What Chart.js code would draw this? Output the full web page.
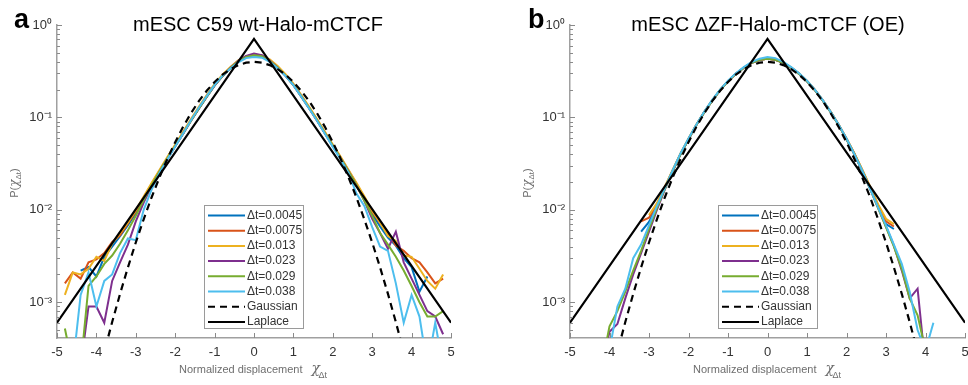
<!DOCTYPE html>
<html>
<head>
<meta charset="utf-8">
<script src="https://cdn.jsdelivr.net/npm/chart.js@4.4.0/dist/chart.umd.min.js"></script>
<style>
  html, body { margin: 0; padding: 0; background: #fff; }
  #wrap { position: relative; width: 968px; height: 385px; overflow: hidden; }
  canvas { position: absolute; top: 0; }
  #chartA { left: 0; }
  #chartB { left: 484px; }
</style>
</head>
<body>
<div id="wrap">
  <canvas id="chartA" width="484" height="385"></canvas>
  <canvas id="chartB" width="484" height="385"></canvas>
</div>
<script>
// Bin centres (normalized displacement), shared by both panels
const X_BINS = [
  -4.8, -4.6, -4.4, -4.2, -4.0, -3.8, -3.6, -3.4, -3.2, -3.0,
  -2.8, -2.6, -2.4, -2.2, -2.0, -1.8, -1.6, -1.4, -1.2, -1.0,
  -0.8, -0.6, -0.4, -0.2, 0.0, 0.2, 0.4, 0.6, 0.8, 1.0,
  1.2, 1.4, 1.6, 1.8, 2.0, 2.2, 2.4, 2.6, 2.8, 3.0,
  3.2, 3.4, 3.6, 3.8, 4.0, 4.2, 4.4, 4.6, 4.8
];

const SERIES_LABELS = ['\u0394t=0.0045', '\u0394t=0.0075', '\u0394t=0.013', '\u0394t=0.023', '\u0394t=0.029', '\u0394t=0.038'];
const SERIES_COLORS = ['#0072BD', '#D95319', '#EDB120', '#7E2F8E', '#77AC30', '#4DBEEE'];

const Y_TICK_VALUES = [1, 0.1, 0.01, 0.001];
const Y_TICK_LABELS = ['10\u2070', '10\u207B\u00B9', '10\u207B\u00B2', '10\u207B\u00B3'];
const X_TICK_VALUES = [-5, -4, -3, -2, -1, 0, 1, 2, 3, 4, 5];

// Panel a: mESC C59 wt-Halo-mCTCF
const WT_0045 = [
  null, null, 0.0022, 0.0024, 0.0019, 0.0031, 0.0040, 0.0052, 0.0068, 0.0092,
  0.0132, 0.0186, 0.0258, 0.0357, 0.0488, 0.0668, 0.0918, 0.1245, 0.167, 0.221,
  0.279, 0.340, 0.405, 0.452, 0.470, 0.458, 0.408, 0.344, 0.283, 0.224,
  0.169, 0.126, 0.093, 0.0675, 0.0492, 0.0362, 0.0262, 0.0188, 0.0131, 0.0090,
  0.0066, 0.0050, 0.0041, 0.0030, 0.0024, 0.0013, 0.0019, null, null
];
const WT_0075 = [
  0.0016, 0.0021, 0.0018, 0.0027, 0.0029, 0.0034, 0.0045, 0.0053, 0.0071, 0.0096,
  0.0135, 0.0190, 0.0263, 0.0363, 0.0495, 0.0675, 0.093, 0.126, 0.169, 0.224,
  0.282, 0.343, 0.410, 0.458, 0.480, 0.468, 0.415, 0.350, 0.288, 0.228,
  0.172, 0.128, 0.094, 0.0685, 0.050, 0.0368, 0.0266, 0.0192, 0.0136, 0.0095,
  0.0072, 0.0056, 0.0041, 0.0036, 0.0030, 0.0027, 0.0021, 0.0016, 0.0018
];
const WT_013 = [
  0.0012, 0.0021, 0.0020, 0.0023, 0.0031, 0.0028, 0.0043, 0.0056, 0.0073, 0.0099,
  0.0139, 0.0195, 0.027, 0.0372, 0.051, 0.070, 0.096, 0.130, 0.174, 0.230,
  0.290, 0.352, 0.415, 0.458, 0.470, 0.463, 0.425, 0.360, 0.294, 0.232,
  0.175, 0.130, 0.096, 0.070, 0.051, 0.0375, 0.027, 0.0196, 0.0140, 0.0098,
  0.0073, 0.0052, 0.0046, 0.0032, 0.0031, 0.0023, 0.0017, 0.0014, 0.0020
];
const WT_023 = [
  null, null, 0.0002, 0.0009, 0.0009, 0.0006, 0.0017, 0.0027, 0.0042, 0.0075,
  0.0120, 0.0180, 0.0255, 0.0355, 0.0488, 0.0668, 0.092, 0.125, 0.168, 0.222,
  0.280, 0.342, 0.410, 0.462, 0.490, 0.472, 0.412, 0.345, 0.282, 0.223,
  0.168, 0.125, 0.092, 0.067, 0.049, 0.036, 0.026, 0.0185, 0.0125, 0.0080,
  0.0056, 0.0038, 0.0058, 0.0027, 0.0018, 0.0012, 0.0008, 0.0007, 0.00045
];
const WT_029 = [
  0.00052, 0.0002, 0.0002, 0.0015, 0.0019, 0.0026, 0.0032, 0.0043, 0.0060, 0.0086,
  0.0128, 0.0185, 0.0258, 0.0358, 0.049, 0.067, 0.092, 0.125, 0.168, 0.223,
  0.280, 0.340, 0.405, 0.452, 0.470, 0.458, 0.408, 0.344, 0.283, 0.224,
  0.169, 0.126, 0.093, 0.0675, 0.0492, 0.036, 0.0258, 0.0185, 0.0126, 0.0086,
  0.0056, 0.0042, 0.0031, 0.0022, 0.0015, 0.0010, 0.0007, 0.0007, 0.0008
];
const WT_038 = [
  null, 0.0002, 0.0012, 0.0021, 0.0009, 0.0017, 0.0020, 0.0034, 0.0049, 0.0047,
  0.0100, 0.0165, 0.0250, 0.0350, 0.0485, 0.067, 0.093, 0.127, 0.170, 0.225,
  0.283, 0.338, 0.395, 0.438, 0.450, 0.443, 0.400, 0.340, 0.281, 0.223,
  0.168, 0.125, 0.092, 0.0665, 0.048, 0.035, 0.025, 0.0150, 0.0110, 0.0065,
  0.0040, 0.0036, 0.0016, 0.0006, 0.0012, 0.0007, 0.0002, 0.0006, 0.0002
];

// Panel b: mESC dZF-Halo-mCTCF (OE)
const ZF_0045 = [
  null, null, null, null, null, null, null, null, 0.0058, 0.0074,
  0.0110, 0.0172, 0.0265, 0.040, 0.058, 0.083, 0.114, 0.152, 0.197, 0.246,
  0.296, 0.345, 0.390, 0.420, 0.430, 0.420, 0.390, 0.345, 0.296, 0.246,
  0.197, 0.152, 0.114, 0.083, 0.058, 0.040, 0.0265, 0.0172, 0.0108, 0.0070,
  0.0062, null, null, null, null, null, null, null, null
];
const ZF_0075 = [
  null, null, null, null, null, null, null, null, 0.0075, 0.0082,
  0.0115, 0.0175, 0.0268, 0.0405, 0.058, 0.083, 0.114, 0.152, 0.197, 0.246,
  0.296, 0.345, 0.390, 0.420, 0.430, 0.420, 0.392, 0.347, 0.298, 0.248,
  0.198, 0.153, 0.115, 0.084, 0.059, 0.0405, 0.0270, 0.0176, 0.0112, 0.0075,
  0.0066, null, null, null, null, null, null, null, null
];
const ZF_013 = [
  null, null, null, null, null, null, null, null, null, 0.0088,
  0.0118, 0.0178, 0.0270, 0.041, 0.059, 0.084, 0.115, 0.153, 0.198, 0.247,
  0.297, 0.346, 0.391, 0.421, 0.430, 0.421, 0.392, 0.347, 0.298, 0.248,
  0.198, 0.153, 0.115, 0.084, 0.059, 0.041, 0.0272, 0.0178, 0.0115, 0.0080,
  0.0070, null, null, null, null, null, null, null, null
];
const ZF_023 = [
  null, null, 0.0002, 0.0002, 0.00048, 0.00058, 0.0011, 0.0020, 0.0034, 0.0058,
  0.0100, 0.0165, 0.0260, 0.040, 0.058, 0.083, 0.114, 0.152, 0.197, 0.246,
  0.296, 0.345, 0.390, 0.420, 0.430, 0.420, 0.390, 0.345, 0.296, 0.246,
  0.197, 0.152, 0.114, 0.083, 0.058, 0.040, 0.0260, 0.0168, 0.0105, 0.0066,
  0.0041, 0.0022, 0.0011, 0.0014, 0.0002, null, null, null, null
];
const ZF_029 = [
  null, null, 0.0002, 0.0002, 0.00055, 0.0008, 0.0013, 0.0022, 0.0036, 0.0062,
  0.0104, 0.0168, 0.0262, 0.040, 0.058, 0.083, 0.114, 0.152, 0.197, 0.246,
  0.296, 0.345, 0.390, 0.420, 0.430, 0.420, 0.390, 0.345, 0.296, 0.246,
  0.197, 0.152, 0.114, 0.083, 0.058, 0.040, 0.0262, 0.0168, 0.0104, 0.0065,
  0.0040, 0.0023, 0.0011, 0.00072, 0.0003, null, null, null, null
];
const ZF_038 = [
  null, null, null, 0.0002, 0.0003, 0.0009, 0.0014, 0.0030, 0.0042, 0.0068,
  0.0110, 0.0172, 0.0268, 0.041, 0.059, 0.084, 0.116, 0.155, 0.200, 0.250,
  0.300, 0.350, 0.398, 0.432, 0.450, 0.438, 0.398, 0.350, 0.300, 0.250,
  0.200, 0.154, 0.115, 0.084, 0.059, 0.040, 0.0265, 0.0168, 0.0106, 0.0068,
  0.0042, 0.0026, 0.0013, 0.0005, 0.0003, 0.0006, null, null, null
];

// Reference curves (same in both panels)
const GAUSS_Y = [
  null, null, null, null, 0.000134, 0.00029, 0.00061, 0.00123, 0.00238, 0.00443,
  0.0079, 0.0136, 0.0224, 0.0355, 0.054, 0.079, 0.111, 0.150, 0.194, 0.242,
  0.290, 0.333, 0.368, 0.391, 0.399, 0.391, 0.368, 0.333, 0.290, 0.242,
  0.194, 0.150, 0.111, 0.079, 0.054, 0.0355, 0.0224, 0.0136, 0.0079, 0.00443,
  0.00238, 0.00123, 0.00061, 0.00029, 0.000134, null, null, null, null
];
const LAPLACE_X = [-5, 0, 5];
const LAPLACE_Y = [0.0006, 0.707, 0.0006];

const FONT = '"Liberation Sans", Arial, Helvetica, sans-serif';
const AXIS_COLOR = '#a0a0a0';
const TEXT_COLOR = '#333333';
const LABEL_COLOR = '#6e6e6e';

function toPoints(xs, ys) {
    return xs.map((x, i) => ({ x: x, y: ys[i] }));
}

function buildDatasets(seriesList) {
    const sets = seriesList.map((ys, i) => ({
        label: SERIES_LABELS[i],
        data: toPoints(X_BINS, ys),
        borderColor: SERIES_COLORS[i],
        borderWidth: 2,
        pointRadius: 0,
        tension: 0,
        fill: false,
        order: 8 - i
    }));
    sets.push({
        label: 'Gaussian',
        data: toPoints(X_BINS, GAUSS_Y),
        borderColor: '#000',
        borderWidth: 2.2,
        borderDash: [7, 5],
        pointRadius: 0,
        fill: false,
        order: 1
    });
    sets.push({
        label: 'Laplace',
        data: toPoints(LAPLACE_X, LAPLACE_Y),
        borderColor: '#000',
        borderWidth: 2.2,
        pointRadius: 0,
        fill: false,
        order: 0
    });
    return sets;
}

// Title, panel letter, axis titles, inward ticks and legend box
function panelDecor(p) {
    return {
        id: 'decor',
        afterDraw(chart) {
            const ctx = chart.ctx;
            const area = chart.chartArea;
            const xs = chart.scales.x;
            const ys = chart.scales.y;
            ctx.save();

            // inward tick marks
            ctx.strokeStyle = '#8a8a8a';
            ctx.lineWidth = 1;
            ctx.beginPath();
            for (let e = -4; e <= 0; e++) {
                for (let m = 1; m <= 9; m++) {
                    const v = m * Math.pow(10, e);
                    if (v < ys.min || v > ys.max) continue;
                    const py = Math.round(ys.getPixelForValue(v)) + 0.5;
                    ctx.moveTo(area.left, py);
                    ctx.lineTo(area.left + (m === 1 ? 5 : 3), py);
                }
            }
            X_TICK_VALUES.forEach(v => {
                const px = Math.round(xs.getPixelForValue(v)) + 0.5;
                ctx.moveTo(px, area.bottom);
                ctx.lineTo(px, area.bottom - 5);
            });
            ctx.stroke();

            // panel letter and title
            ctx.fillStyle = '#000';
            ctx.textBaseline = 'alphabetic';
            ctx.textAlign = 'left';
            ctx.font = 'bold 27px ' + FONT;
            ctx.fillText(p.letter, p.letterX, 28);
            ctx.textAlign = 'center';
            ctx.font = '20px ' + FONT;
            ctx.fillText(p.title, p.titleX, 31);

            // x axis title
            ctx.textAlign = 'left';
            ctx.fillStyle = LABEL_COLOR;
            ctx.font = '11px ' + FONT;
            const xt = 'Normalized displacement';
            ctx.fillText(xt, p.xLabelX, 373);
            const chiX = p.xLabelX + ctx.measureText(xt).width + 9;
            ctx.font = 'italic 14px "DejaVu Serif", serif';
            ctx.fillText('\u03C7', chiX, 373);
            ctx.font = '9px ' + FONT;
            ctx.fillText('\u0394t', chiX + 7, 378);

            // y axis title, rotated
            ctx.save();
            ctx.translate(p.yLabelX, 183);
            ctx.rotate(-Math.PI / 2);
            ctx.font = '11px ' + FONT;
            const w1 = ctx.measureText('P(').width;
            ctx.font = 'italic 12px "DejaVu Serif", serif';
            const w2 = ctx.measureText('\u03C7').width;
            ctx.font = '8px ' + FONT;
            const w3 = ctx.measureText('\u0394t').width;
            ctx.font = '11px ' + FONT;
            const w4 = ctx.measureText(')').width;
            let cx = -(w1 + w2 + w3 + w4) / 2;
            ctx.fillText('P(', cx, 4);
            cx += w1;
            ctx.font = 'italic 12px "DejaVu Serif", serif';
            ctx.fillText('\u03C7', cx, 4);
            cx += w2;
            ctx.font = '8px ' + FONT;
            ctx.fillText('\u0394t', cx, 7);
            cx += w3;
            ctx.font = '11px ' + FONT;
            ctx.fillText(')', cx, 4);
            ctx.restore();

            // legend
            const lx = p.legendX, ly = 205, lw = 99, lh = 123;
            ctx.fillStyle = '#fff';
            ctx.fillRect(lx, ly, lw, lh);
            ctx.strokeStyle = '#9a9a9a';
            ctx.lineWidth = 1;
            ctx.strokeRect(lx + 0.5, ly + 0.5, lw, lh);
            const names = SERIES_LABELS.concat(['Gaussian', 'Laplace']);
            ctx.font = '12px ' + FONT;
            ctx.textBaseline = 'middle';
            names.forEach((name, i) => {
                const ry = ly + 10.5 + i * 15.2;
                ctx.beginPath();
                ctx.strokeStyle = i < 6 ? SERIES_COLORS[i] : '#000';
                ctx.lineWidth = 2;
                ctx.setLineDash(i === 6 ? [7, 5] : []);
                ctx.moveTo(lx + 4, ry);
                ctx.lineTo(lx + 41, ry);
                ctx.stroke();
                ctx.setLineDash([]);
                ctx.fillStyle = TEXT_COLOR;
                ctx.fillText(name, lx + 43, ry);
            });
            ctx.restore();
        }
    };
}

function makeChart(p, seriesList) {
    const ctx = document.getElementById(p.canvas).getContext('2d');
    return new Chart(ctx, {
        type: 'line',
        data: { datasets: buildDatasets(seriesList) },
        options: {
            responsive: false,
            animation: false,
            layout: { padding: { left: p.padLeft, right: p.padRight, top: 25, bottom: 0 } },
            plugins: {
                legend: { display: false },
                tooltip: { enabled: false },
                title: { display: false }
            },
            scales: {
                x: {
                    type: 'linear',
                    min: -5,
                    max: 5,
                    afterBuildTicks: s => { s.ticks = X_TICK_VALUES.map(v => ({ value: v })); },
                    ticks: { color: TEXT_COLOR, font: { family: FONT, size: 13 }, padding: 7, maxRotation: 0, autoSkip: false },
                    grid: { display: false, drawTicks: false },
                    border: { display: true, color: AXIS_COLOR, width: 1.5 },
                    afterFit: s => { s.height = 47; s.paddingLeft = 0; s.paddingRight = 0; }
                },
                y: {
                    type: 'logarithmic',
                    min: 0.00041,
                    max: 1,
                    afterBuildTicks: s => { s.ticks = Y_TICK_VALUES.map(v => ({ value: v })); },
                    ticks: {
                        color: TEXT_COLOR,
                        font: { family: FONT, size: 13 },
                        padding: 5,
                        autoSkip: false,
                        callback: v => {
                            const i = Y_TICK_VALUES.findIndex(t => Math.abs(t - v) / t < 1e-6);
                            return i >= 0 ? Y_TICK_LABELS[i] : '';
                        }
                    },
                    grid: { display: false, drawTicks: false },
                    border: { display: true, color: AXIS_COLOR, width: 1.5 },
                    afterFit: s => { s.width = 57; }
                }
            }
        },
        plugins: [panelDecor(p)]
    });
}

const PANEL_A = { canvas: 'chartA', letter: 'a', title: 'mESC C59 wt-Halo-mCTCF', letterX: 14, titleX: 258, legendX: 204, padLeft: 0, padRight: 33, yLabelX: 14, xLabelX: 179 };
const PANEL_B = { canvas: 'chartB', letter: 'b', title: 'mESC \u0394ZF-Halo-mCTCF (OE)', letterX: 44, titleX: 284, legendX: 234, padLeft: 29, padRight: 3, yLabelX: 43, xLabelX: 209 };

makeChart(PANEL_A, [WT_0045, WT_0075, WT_013, WT_023, WT_029, WT_038]);
makeChart(PANEL_B, [ZF_0045, ZF_0075, ZF_013, ZF_023, ZF_029, ZF_038]);
</script>
</body>
</html>
